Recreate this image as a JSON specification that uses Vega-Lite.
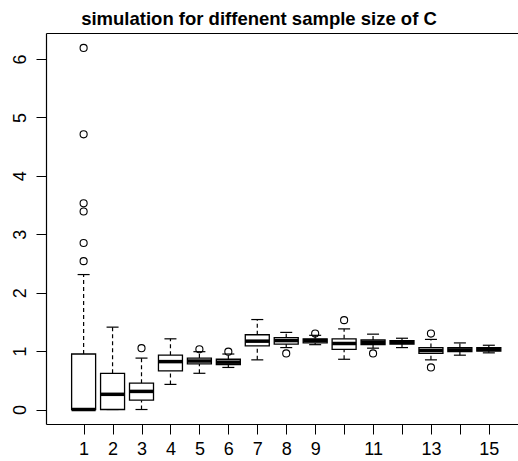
{
  "$schema": "https://vega.github.io/schema/vega-lite/v6.json",
  "autosize": "none",
  "width": 472,
  "height": 391,
  "padding": {"left": 46, "top": 33, "right": 0, "bottom": 37},
  "background": "white",
  "title": {"text": "simulation for diffenent sample size of C", "font": "Liberation Sans", "fontSize": 18.5, "fontWeight": "bold", "color": "black", "anchor": "middle", "dx": -23, "dy": 17, "offset": 3, "baseline": "bottom"},
  "config": {"view": {"stroke": null}, "font": "Liberation Sans"},
  "datasets": {
    "boxes": [
      {"g": 1, "lo": 0.0, "q1": 0.0, "med": 0.0, "q3": 0.95, "hi": 2.31},
      {"g": 2, "lo": 0.0, "q1": 0.0, "med": 0.26, "q3": 0.62, "hi": 1.41},
      {"g": 3, "lo": 0.0, "q1": 0.16, "med": 0.31, "q3": 0.45, "hi": 0.88},
      {"g": 4, "lo": 0.43, "q1": 0.66, "med": 0.82, "q3": 0.93, "hi": 1.21},
      {"g": 5, "lo": 0.62, "q1": 0.78, "med": 0.83, "q3": 0.88, "hi": 0.99},
      {"g": 6, "lo": 0.72, "q1": 0.77, "med": 0.81, "q3": 0.86, "hi": 0.95},
      {"g": 7, "lo": 0.85, "q1": 1.09, "med": 1.17, "q3": 1.28, "hi": 1.54},
      {"g": 8, "lo": 1.06, "q1": 1.12, "med": 1.18, "q3": 1.23, "hi": 1.32},
      {"g": 9, "lo": 1.11, "q1": 1.14, "med": 1.18, "q3": 1.21, "hi": 1.27},
      {"g": 10, "lo": 0.86, "q1": 1.03, "med": 1.13, "q3": 1.21, "hi": 1.38},
      {"g": 11, "lo": 1.05, "q1": 1.11, "med": 1.15, "q3": 1.19, "hi": 1.29},
      {"g": 12, "lo": 1.06, "q1": 1.12, "med": 1.15, "q3": 1.18, "hi": 1.22},
      {"g": 13, "lo": 0.85, "q1": 0.96, "med": 1.01, "q3": 1.06, "hi": 1.2},
      {"g": 14, "lo": 0.93, "q1": 0.99, "med": 1.02, "q3": 1.06, "hi": 1.14},
      {"g": 15, "lo": 0.97, "q1": 1.0, "med": 1.03, "q3": 1.06, "hi": 1.1}
    ],
    "outliers": [
      {"g": 1, "v": 6.19}, {"g": 1, "v": 4.71}, {"g": 1, "v": 3.53}, {"g": 1, "v": 3.39},
      {"g": 1, "v": 2.85}, {"g": 1, "v": 2.54},
      {"g": 3, "v": 1.05},
      {"g": 5, "v": 1.03},
      {"g": 6, "v": 0.99},
      {"g": 8, "v": 0.96},
      {"g": 9, "v": 1.3},
      {"g": 10, "v": 1.53},
      {"g": 11, "v": 0.96},
      {"g": 13, "v": 1.3}, {"g": 13, "v": 0.72}
    ]
  },
  "layer": [
    {
      "data": {"name": "boxes"},
      "mark": {"type": "rule", "color": "black", "strokeWidth": 1.2, "strokeDash": [4, 3]},
      "encoding": {
        "x": {"field": "g", "type": "quantitative", "scale": {"domain": [-0.127, 15.835], "nice": false, "zero": false},
          "axis": {"orient": "bottom", "values": [1,2,3,4,5,6,7,8,9,10,11,12,13,14,15], "labelExpr": "datum.value == 10 || datum.value == 12 || datum.value == 14 ? '' : datum.label", "title": null, "grid": false, "tickSize": 10, "tickColor": "black", "tickWidth": 1, "domainColor": "black", "domainWidth": 1.2, "labelFontSize": 18, "labelFont": "Liberation Sans", "labelColor": "black", "labelPadding": 6, "labelFlush": false, "labelOverlap": false}},
        "y": {"field": "q3", "type": "quantitative", "scale": {"domain": [-0.248, 6.445], "nice": false, "zero": false},
          "axis": {"orient": "left", "values": [0,1,2,3,4,5,6], "format": "d", "title": null, "grid": false, "tickSize": 10, "tickColor": "black", "tickWidth": 1, "domainColor": "black", "domainWidth": 1.2, "labelFontSize": 18, "labelFont": "Liberation Sans", "labelColor": "black", "labelAngle": -90, "labelAlign": "center", "labelBaseline": "bottom", "labelPadding": 7}},
        "y2": {"field": "hi"}
      }
    },
    {
      "data": {"name": "boxes"},
      "mark": {"type": "rule", "color": "black", "strokeWidth": 1.2, "strokeDash": [4, 3]},
      "encoding": {
        "x": {"field": "g", "type": "quantitative", "axis": null},
        "y": {"field": "lo", "type": "quantitative"},
        "y2": {"field": "q1"}
      }
    },
    {
      "data": {"name": "boxes"},
      "mark": {"type": "tick", "orient": "horizontal", "color": "black", "opacity": 1, "size": 12, "thickness": 1.2},
      "encoding": {
        "x": {"field": "g", "type": "quantitative", "axis": null},
        "y": {"field": "hi", "type": "quantitative"}
      }
    },
    {
      "data": {"name": "boxes"},
      "mark": {"type": "tick", "orient": "horizontal", "color": "black", "opacity": 1, "size": 12, "thickness": 1.2},
      "encoding": {
        "x": {"field": "g", "type": "quantitative", "axis": null},
        "y": {"field": "lo", "type": "quantitative"}
      }
    },
    {
      "data": {"name": "boxes"},
      "mark": {"type": "bar", "size": 24, "fill": "white", "stroke": "black", "strokeWidth": 1.3},
      "encoding": {
        "x": {"field": "g", "type": "quantitative", "axis": null},
        "y": {"field": "q1", "type": "quantitative"},
        "y2": {"field": "q3"}
      }
    },
    {
      "data": {"name": "boxes"},
      "mark": {"type": "tick", "orient": "horizontal", "color": "black", "opacity": 1, "size": 24, "thickness": 3.5},
      "encoding": {
        "x": {"field": "g", "type": "quantitative", "axis": null},
        "y": {"field": "med", "type": "quantitative"}
      }
    },
    {
      "data": {"name": "outliers"},
      "mark": {"type": "point", "filled": false, "stroke": "black", "strokeWidth": 1.1, "size": 50, "opacity": 1},
      "encoding": {
        "x": {"field": "g", "type": "quantitative", "axis": {"orient": "top", "ticks": false, "labels": false, "domain": true, "domainColor": "black", "domainWidth": 1.2, "grid": false, "title": null}},
        "y": {"field": "v", "type": "quantitative"}
      }
    },
    {
      "mark": {"type": "rule", "color": "black", "strokeWidth": 1.1},
      "encoding": {"y": {"datum": 1}}
    }
  ],
  "resolve": {"axis": {"x": "independent"}}
}
